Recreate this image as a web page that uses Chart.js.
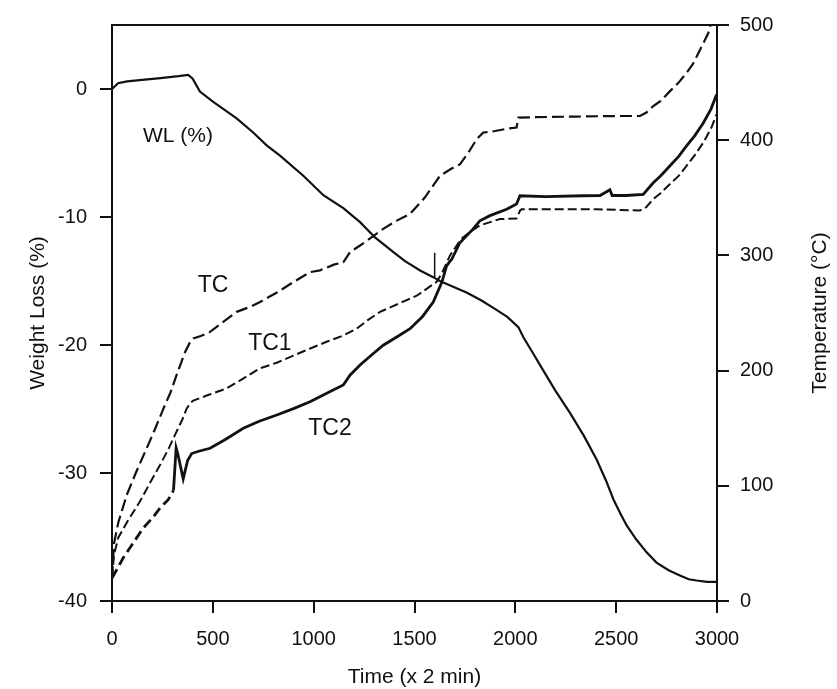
<!DOCTYPE html>
<html>
<head>
<meta charset="utf-8">
<script src="https://cdn.jsdelivr.net/npm/chart.js@4.4.0/dist/chart.umd.min.js"></script>
<style>
  html, body { margin: 0; padding: 0; background: #fff; }
  #wrap { width: 837px; height: 689px; }
</style>
</head>
<body>
<div id="wrap"><canvas id="tgaChart" width="837" height="689"></canvas></div>
<script>
// Weight loss curve (left axis, %)
const wlTime = [0, 30, 75, 150, 240, 330, 378, 400, 436, 502, 618, 700, 767, 833, 950, 1048, 1147, 1230, 1304, 1400, 1453, 1530, 1593, 1626, 1700, 1758, 1830, 1891, 1960, 2015, 2040, 2090, 2139, 2200, 2271, 2340, 2403, 2450, 2486, 2519, 2552, 2600, 2651, 2700, 2760, 2816, 2860, 2899, 2950, 3000];
const wlValue = [0, 0.45, 0.6, 0.72, 0.85, 1.0, 1.1, 0.8, -0.2, -1.0, -2.3, -3.4, -4.4, -5.2, -6.8, -8.3, -9.3, -10.4, -11.6, -12.8, -13.45, -14.2, -14.7, -15.0, -15.5, -15.9, -16.5, -17.1, -17.8, -18.6, -19.4, -20.7, -22.0, -23.6, -25.3, -27.1, -28.95, -30.6, -32.05, -33.1, -34.1, -35.2, -36.2, -37.0, -37.6, -38.0, -38.3, -38.4, -38.5, -38.5];

// small vertical marker near the crossing
const markTime = [1600, 1600];
const markValue = [-12.8, -14.7];

// Thermocouple temperatures (right axis, deg C)
const tcTime = [0, 10, 31, 73, 120, 172, 215, 255, 290, 320, 362, 385, 403, 440, 486, 550, 618, 680, 734, 820, 899, 982, 1031, 1100, 1147, 1180, 1230, 1290, 1345, 1410, 1478, 1550, 1626, 1680, 1725, 1770, 1808, 1841, 1900, 1960, 2006, 2015, 2100, 2300, 2500, 2618, 2650, 2684, 2720, 2767, 2810, 2849, 2880, 2916, 2940, 2957, 2968];
const tcTemp = [20, 50, 68, 92, 112, 132.6, 150, 167, 181, 196, 216, 224, 228, 230, 233.6, 242, 251, 255, 259.5, 268, 276.8, 285.5, 287, 292, 294, 302.8, 308.6, 316, 323, 330, 336, 350, 369, 375, 379, 390, 400.8, 406.6, 408, 410, 411, 419.6, 420, 420.5, 421, 421, 424, 429.7, 434, 442.6, 450, 458.5, 466, 478.6, 487, 493, 500];

const tc1Time = [0, 10, 31, 80, 139, 190, 238, 280, 320, 350, 370, 390, 403, 480, 568, 650, 734, 820, 899, 980, 1064, 1140, 1213, 1270, 1329, 1420, 1511, 1560, 1610, 1640, 1676, 1730, 1780, 1824, 1924, 2006, 2023, 2031, 2200, 2400, 2618, 2650, 2684, 2720, 2767, 2810, 2849, 2890, 2932, 2970, 2998];
const tc1Temp = [20, 40, 55, 70, 86.5, 103, 118, 132, 147, 158, 167, 172, 174, 179, 184.5, 193, 202, 207, 213, 219, 225, 230, 236.4, 244, 251, 258, 265, 271, 277, 286, 300, 314, 321, 326, 331.6, 332, 338.8, 340, 340, 340, 339, 342, 349, 354, 362, 369, 377.8, 387, 398, 410, 422.4];

const tc2Time = [0, 20, 56, 100, 155, 200, 238, 279, 305, 318, 326, 353, 375, 395, 430, 486, 560, 651, 730, 817, 900, 982, 1060, 1147, 1180, 1230, 1290, 1345, 1410, 1478, 1540, 1593, 1636, 1659, 1686, 1725, 1791, 1824, 1874, 1957, 2006, 2023, 2150, 2337, 2420, 2469, 2480, 2550, 2634, 2684, 2720, 2767, 2810, 2849, 2890, 2932, 2970, 2998];
const tc2Temp = [20, 26, 37.5, 49, 63.4, 72, 80.7, 88, 96, 133, 128, 106, 122, 128, 130, 132.6, 140, 150, 156, 161.5, 167, 173, 180, 187.5, 196, 204.8, 214, 222, 229, 236.4, 247, 259.5, 276.8, 291, 297, 311, 323, 330, 334.5, 340, 344.6, 351.8, 351, 351.8, 352, 357, 352, 352, 353, 363, 369, 377.8, 386, 395, 404, 415, 427, 439.7];

// tick labels
const xTicks = [0, 500, 1000, 1500, 2000, 2500, 3000];
const wlTicks = [-40, -30, -20, -10, 0];
const tempTicks = [0, 100, 200, 300, 400, 500];

// curve labels, in data units
const curveLabels = [
    { text: 'WL (%)', x: 327, y: -3.7, axis: 'yWL' },
    { text: 'TC', x: 501, y: 274, axis: 'yT' },
    { text: 'TC1', x: 783, y: 223, axis: 'yT' },
    { text: 'TC2', x: 1081, y: 150, axis: 'yT' }
];

const FONT = '"Liberation Sans", Arial, Helvetica, sans-serif';
const INK = '#111';

function pairs(xs, ys) {
    return xs.map((x, i) => ({ x: x, y: ys[i] }));
}

// plain numbers, no thousands separator
const plain = v => String(v);

// frame, axis titles and curve labels
const decorPlugin = {
    id: 'decor',
    afterDraw(chart) {
        const ctx = chart.ctx;
        const area = chart.chartArea;
        ctx.save();
        ctx.strokeStyle = INK;
        ctx.lineWidth = 2;
        ctx.beginPath();
        ctx.moveTo(area.left - 1, area.top);
        ctx.lineTo(area.right + 1, area.top);
        ctx.stroke();

        ctx.fillStyle = INK;
        ctx.textAlign = 'center';
        ctx.textBaseline = 'middle';

        ctx.font = '21px ' + FONT;
        ctx.fillText('Time (x 2 min)', (area.left + area.right) / 2, 677);

        const midY = (area.top + area.bottom) / 2;
        ctx.save();
        ctx.translate(38, midY);
        ctx.rotate(-Math.PI / 2);
        ctx.fillText('Weight Loss (%)', 0, 0);
        ctx.restore();

        ctx.save();
        ctx.translate(820, midY);
        ctx.rotate(-Math.PI / 2);
        ctx.fillText('Temperature (\u00B0C)', 0, 0);
        ctx.restore();

        curveLabels.forEach(l => {
            ctx.font = (l.text === 'WL (%)' ? '21px ' : '23px ') + FONT;
            const px = chart.scales.x.getPixelForValue(l.x);
            const py = chart.scales[l.axis].getPixelForValue(l.y);
            ctx.fillText(l.text, px, py);
        });
        ctx.restore();
    }
};

const ctx = document.getElementById('tgaChart').getContext('2d');
new Chart(ctx, {
    type: 'line',
    data: {
        datasets: [
            {
                label: 'WL',
                data: pairs(wlTime, wlValue),
                yAxisID: 'yWL',
                borderColor: INK,
                borderWidth: 2.2
            },
            {
                label: 'mark',
                data: pairs(markTime, markValue),
                yAxisID: 'yWL',
                borderColor: INK,
                borderWidth: 1.5
            },
            {
                label: 'TC',
                data: pairs(tcTime, tcTemp),
                yAxisID: 'yT',
                borderColor: INK,
                borderWidth: 2.2,
                borderDash: [12, 5]
            },
            {
                label: 'TC1',
                data: pairs(tc1Time, tc1Temp),
                yAxisID: 'yT',
                borderColor: INK,
                borderWidth: 2,
                borderDash: [9, 4]
            },
            {
                label: 'TC2',
                data: pairs(tc2Time, tc2Temp),
                yAxisID: 'yT',
                borderColor: INK,
                borderWidth: 2.8,
                segment: {
                    borderDash: s => (s.p0.parsed.x < 300 ? [10, 5] : [])
                }
            }
        ]
    },
    options: {
        responsive: false,
        animation: false,
        elements: { point: { radius: 0 }, line: { tension: 0 } },
        layout: { padding: { top: 22, left: 0, right: 0, bottom: 0 } },
        plugins: {
            legend: { display: false },
            tooltip: { enabled: false }
        },
        scales: {
            x: {
                type: 'linear',
                min: 0,
                max: 3000,
                afterFit: s => { s.height = 88; },
                afterBuildTicks: s => { s.ticks = xTicks.map(v => ({ value: v })); },
                border: { color: INK, width: 2 },
                grid: { drawOnChartArea: false, color: INK, lineWidth: 2, tickLength: 12 },
                ticks: { color: INK, padding: 14, maxRotation: 0, callback: plain, font: { family: FONT, size: 20 } }
            },
            yWL: {
                type: 'linear',
                position: 'left',
                min: -40,
                max: 5,
                afterFit: s => { s.width = 112; },
                afterBuildTicks: s => { s.ticks = wlTicks.map(v => ({ value: v })); },
                border: { color: INK, width: 2 },
                grid: { drawOnChartArea: false, color: INK, lineWidth: 2, tickLength: 12 },
                ticks: { color: INK, padding: 13, callback: plain, font: { family: FONT, size: 20 } }
            },
            yT: {
                type: 'linear',
                position: 'right',
                min: 0,
                max: 500,
                afterFit: s => { s.width = 120; },
                afterBuildTicks: s => { s.ticks = tempTicks.map(v => ({ value: v })); },
                border: { color: INK, width: 2 },
                grid: { drawOnChartArea: false, color: INK, lineWidth: 2, tickLength: 12 },
                ticks: { color: INK, padding: 11, callback: plain, font: { family: FONT, size: 20 } }
            }
        }
    },
    plugins: [decorPlugin]
});
</script>
</body>
</html>
